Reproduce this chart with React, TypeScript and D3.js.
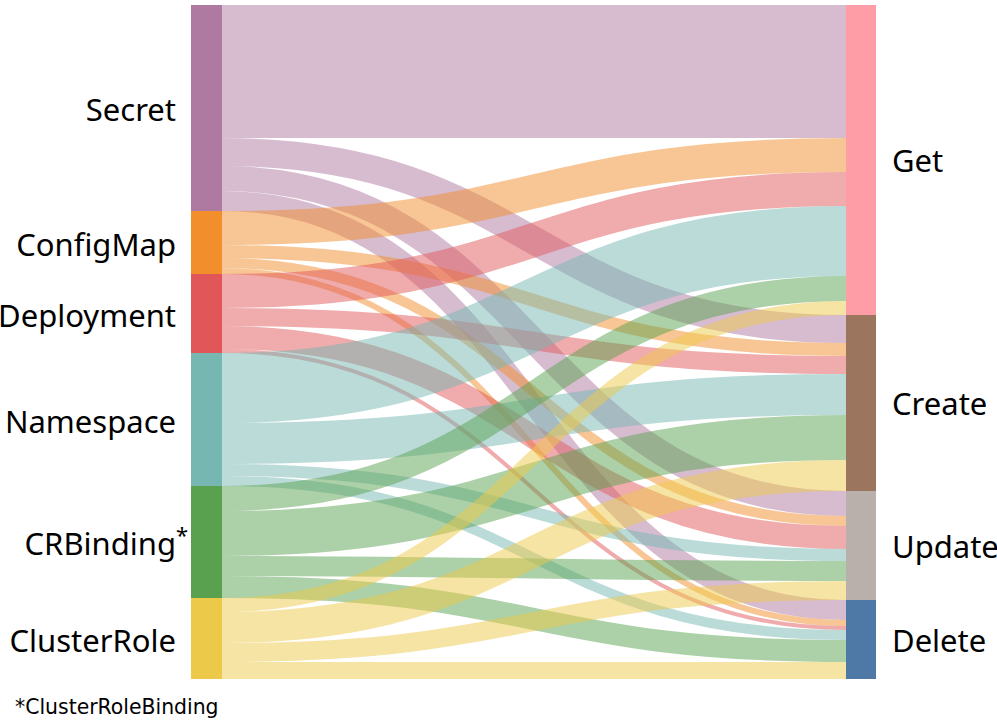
import React from "react";
import * as d3 from "d3";

const sources = ["Secret", "ConfigMap", "Deployment", "Namespace", "CRBinding", "ClusterRole"];
const targets = ["Get", "Create", "Update", "Delete"];
// values per source, in target order
const getValues = [133, 34, 34, 70, 25, 14];
const createValues = [28, 13, 18, 41, 45, 31];
const updateValues = [25, 10, 23, 12, 20, 19];
const deleteValues = [20, 6, 4, 10, 22, 17];
const footnote = "*ClusterRoleBinding";

const colorDomain = ["Delete", "ConfigMap", "Deployment", "Namespace", "CRBinding", "ClusterRole", "Secret", "Get", "Create", "Update"];

export default function App() {
  const W = 997, H = 722;
  const color = d3.scaleOrdinal<string, string>().domain(colorDomain).range(d3.schemeTableau10);
  const matrix = [getValues, createValues, updateValues, deleteValues];
  const links: { s: number; t: number; v: number }[] = [];
  sources.forEach((_, si) => targets.forEach((_, ti) => links.push({ s: si, t: ti, v: matrix[ti][si] })));
  const srcTotals = sources.map((_, si) => d3.sum(matrix, (row) => row[si]));
  const tgtTotals = matrix.map((row) => d3.sum(row));
  const total = d3.sum(srcTotals);
  const y = d3.scaleLinear().domain([0, total]).range([5, 679]);
  const lx0 = 191, lx1 = 222, rx0 = 846, rx1 = 876;

  const srcStart = srcTotals.map((_, i) => d3.sum(srcTotals.slice(0, i)));
  const tgtStart = tgtTotals.map((_, i) => d3.sum(tgtTotals.slice(0, i)));

  const srcOff = srcStart.slice();
  const tgtOff = tgtStart.slice();
  const linkGeo = links.map((l) => {
    const a = srcOff[l.s] + l.v / 2;
    srcOff[l.s] += l.v;
    return { ...l, a };
  });
  const sortedByTarget = linkGeo.slice().sort((p, q) => p.t - q.t || p.s - q.s);
  const bMap = new Map<string, number>();
  sortedByTarget.forEach((l) => {
    bMap.set(l.s + "-" + l.t, tgtOff[l.t] + l.v / 2);
    tgtOff[l.t] += l.v;
  });
  const lg = d3.linkHorizontal();
  const k = y(1) - y(0);

  return (
    <div style={{ position: "absolute", left: 0, top: 0 }}>
      <svg width={W} height={H} style={{ display: "block" }}>
        <g>
          {linkGeo.map((l, i) => (
            <path
              key={i}
              d={lg({ source: [lx1, y(l.a)], target: [rx0, y(bMap.get(l.s + "-" + l.t)!)] } as any) as string}
              fill="none"
              stroke={color(sources[l.s])}
              strokeOpacity={0.5}
              strokeWidth={Math.max(1, l.v * k)}
            />
          ))}
        </g>
        <g>
          {sources.map((s, i) => (
            <rect key={s} x={lx0} y={y(srcStart[i])} width={lx1 - lx0} height={y(srcTotals[i]) - y(0)} fill={color(s)} />
          ))}
          {targets.map((t, i) => (
            <rect key={t} x={rx0} y={y(tgtStart[i])} width={rx1 - rx0} height={y(tgtTotals[i]) - y(0)} fill={color(t)} />
          ))}
        </g>
        <g fontFamily="'Noto Sans', sans-serif" fontSize={31} fill="#000">
          {sources.map((s, i) => {
            const cy = y(srcStart[i] + srcTotals[i] / 2);
            return (
              <g key={s}>
                <text x={176} y={cy + 13} textAnchor="end">{s}</text>
                {s === "CRBinding" && (
                  <text x={176} y={cy + 1} fontSize={22}>*</text>
                )}
              </g>
            );
          })}
          {targets.map((t, i) => {
            const cy = y(tgtStart[i] + tgtTotals[i] / 2);
            return (
              <text key={t} x={892} y={cy + 12}>{t}</text>
            );
          })}
        </g>
        <text x={15} y={714} fontFamily="'DejaVu Sans', sans-serif" fontSize={20.4} fill="#000">{footnote}</text>
      </svg>
    </div>
  );
}
